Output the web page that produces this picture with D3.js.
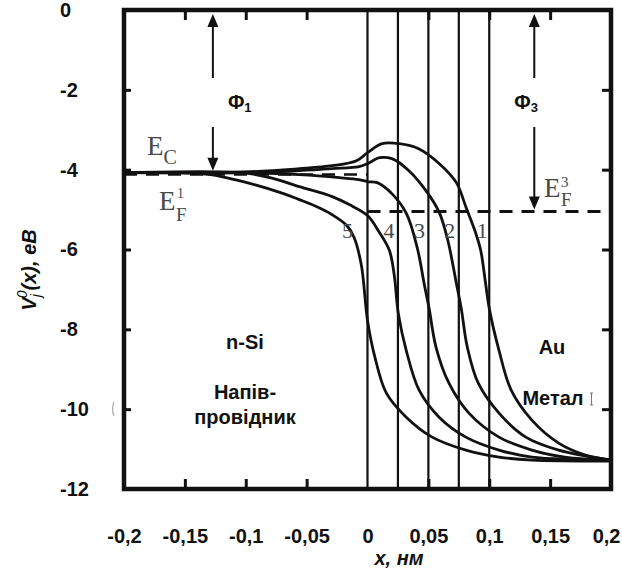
<!DOCTYPE html>
<html>
<head>
<meta charset="utf-8">
<script src="https://cdn.jsdelivr.net/npm/d3@7/dist/d3.min.js"></script>
<style>
  body { margin: 0; background: #fff; }
  svg { display: block; }
  .sans { font-family: "Liberation Sans", Arial, sans-serif; font-weight: bold; }
  .serif { font-family: "Liberation Serif", "Times New Roman", serif; fill: #4a4a4a; }
</style>
</head>
<body>
<svg id="chart" width="622" height="570"></svg>
<script>
// Potential-energy profiles V_j^0(x) across an n-Si / Au contact
const xTicks = [-0.2, -0.15, -0.1, -0.05, 0, 0.05, 0.1, 0.15, 0.2];
const xTickLabels = ["-0,2", "-0,15", "-0,1", "-0,05", "0", "0,05", "0,1", "0,15", "0,2"];
const yTicks = [0, -2, -4, -6, -8, -10, -12];
const yTickLabels = ["0", "-2", "-4", "-6", "-8", "-10", "-12"];

// interface position for curves 1..5 (nm)
const curveNames = ["1", "2", "3", "4", "5"];
const interfaces = [0.1, 0.075, 0.05, 0.025, 0];

// energy levels (eV)
const ecLevel = -4.075;   // conduction band edge of Si, E_C
const efSi = -4.12;       // E_F^1
const efAu = -5.05;       // E_F^3

// profiles, [x (nm), V (eV)]
const curve1 = [[-0.2,-4.075],[-0.096,-4.05],[-0.056,-3.975],[-0.029,-3.9],[-0.009,-3.775],[0,-3.575],
  [0.012,-3.35],[0.026,-3.35],[0.042,-3.475],[0.059,-3.85],[0.073,-4.325],[0.081,-4.95],[0.089,-5.6],
  [0.093,-6.025],[0.097,-6.85],[0.1,-7.475],[0.108,-8.525],[0.118,-9.525],[0.135,-10.275],
  [0.157,-10.85],[0.179,-11.15],[0.2,-11.275]];
const curve2 = [[-0.2,-4.075],[-0.096,-4.075],[-0.056,-4.025],[-0.029,-3.975],[-0.007,-3.925],[0,-3.85],
  [0.01,-3.7],[0.02,-3.725],[0.034,-4.025],[0.048,-4.525],[0.059,-5.075],[0.066,-5.775],[0.073,-6.85],
  [0.077,-7.475],[0.082,-8.45],[0.091,-9.35],[0.108,-10.1],[0.13,-10.7],[0.157,-11.025],[0.2,-11.275]];
const curve3 = [[-0.2,-4.075],[-0.096,-4.075],[-0.056,-4.125],[-0.023,-4.2],[-0.007,-4.25],[0,-4.3],
  [0.008,-4.325],[0.02,-4.6],[0.032,-5.1],[0.041,-5.975],[0.0465,-6.85],[0.0506,-7.475],[0.0563,-8.45],
  [0.0669,-9.35],[0.0833,-10.1],[0.108,-10.7],[0.135,-11.025],[0.162,-11.2],[0.2,-11.275]];
const curve4 = [[-0.2,-4.075],[-0.104,-4.075],[-0.08,-4.2],[-0.056,-4.425],[-0.029,-4.675],[-0.015,-4.875],
  [0,-5.15],[0.0098,-5.575],[0.018,-6.025],[0.022,-6.65],[0.0253,-7.6],[0.0318,-8.525],[0.0424,-9.525],
  [0.0588,-10.2],[0.0808,-10.7],[0.108,-11.025],[0.135,-11.2],[0.2,-11.275]];
const curve5 = [[-0.2,-4.075],[-0.153,-4.075],[-0.129,-4.125],[-0.096,-4.35],[-0.069,-4.6],[-0.056,-4.75],
  [-0.042,-4.925],[-0.029,-5.13],[-0.017,-5.4],[-0.011,-5.7],[-0.005,-6.4],[0,-7.775],[0.0057,-8.65],
  [0.0155,-9.6],[0.0318,-10.2],[0.0531,-10.7],[0.0808,-11.025],[0.108,-11.2],[0.135,-11.275],[0.2,-11.3]];
const curves = [curve1, curve2, curve3, curve4, curve5];

// work-function arrows: x position (nm), level they point down to
const phiNames = ["1", "3"];
const phiX = [-0.127, 0.137];
const phiLevels = [ecLevel, efAu];

const svg = d3.select("#chart");
const x = d3.scaleLinear().domain([-0.2, 0.2]).range([124, 611]);
const y = d3.scaleLinear().domain([0, -12]).range([10, 489]);
const [x0, x1] = x.range();
const [y0, y1] = y.range();

// boundary lines between semiconductor and metal
svg.append("g").selectAll("line").data(interfaces).join("line")
  .attr("x1", d => x(d)).attr("x2", d => x(d))
  .attr("y1", y0).attr("y2", y1)
  .attr("stroke", "#111").attr("stroke-width", 2.2);

// Fermi levels
svg.append("line")
  .attr("x1", x(-0.2)).attr("x2", x(0)).attr("y1", y(efSi)).attr("y2", y(efSi))
  .attr("stroke", "#111").attr("stroke-width", 2.5).attr("stroke-dasharray", "13,9");
svg.append("line")
  .attr("x1", x(0)).attr("x2", x(0.2)).attr("y1", y(efAu)).attr("y2", y(efAu))
  .attr("stroke", "#111").attr("stroke-width", 3).attr("stroke-dasharray", "13,9");

// profiles
const line = d3.line().x(d => x(d[0])).y(d => y(d[1])).curve(d3.curveCatmullRom.alpha(0.5));
svg.append("g").selectAll("path").data(curves).join("path")
  .attr("d", line).attr("fill", "none")
  .attr("stroke", "#111").attr("stroke-width", 2.8);

// inward ticks on all four sides
const tickStyle = g => {
  g.select(".domain").remove();
  g.selectAll("line").attr("stroke", "#111").attr("stroke-width", 3);
};
const innerY = yTicks.filter(v => v !== 0 && v !== -12);
const innerX = xTicks.filter(v => Math.abs(v) !== 0.2 && v !== 0);
svg.append("g").attr("transform", `translate(${x0},0)`)
  .call(d3.axisLeft(y).tickValues(innerY).tickSize(-7).tickFormat("")).call(tickStyle);
svg.append("g").attr("transform", `translate(${x1},0)`)
  .call(d3.axisRight(y).tickValues(innerY).tickSize(-9).tickFormat("")).call(tickStyle);
svg.append("g").attr("transform", `translate(0,${y0})`)
  .call(d3.axisTop(x).tickValues(innerX).tickSize(-10).tickFormat("")).call(tickStyle);
svg.append("g").attr("transform", `translate(0,${y1})`)
  .call(d3.axisBottom(x).tickValues(innerX).tickSize(-10).tickFormat("")).call(tickStyle);

// frame
svg.append("rect")
  .attr("x", x0).attr("y", y0).attr("width", x1 - x0).attr("height", y1 - y0)
  .attr("fill", "none").attr("stroke", "#111").attr("stroke-width", 4.5);

// tick labels
const yLab = svg.append("g").attr("transform", "translate(60,0)")
  .call(d3.axisLeft(y).tickValues(yTicks).tickSize(0).tickPadding(0)
    .tickFormat((d, i) => yTickLabels[i]));
yLab.select(".domain").remove();
yLab.selectAll("text").attr("class", "sans").attr("text-anchor", "start")
  .attr("font-size", 20).attr("fill", "#111");

const xLab = svg.append("g").attr("transform", `translate(0,${y1})`)
  .call(d3.axisBottom(x).tickValues(xTicks).tickSize(0).tickPadding(40)
    .tickFormat((d, i) => xTickLabels[i]));
xLab.select(".domain").remove();
xLab.selectAll("text").attr("class", "sans").attr("font-size", 20).attr("fill", "#111");
// keep the last label inside the page
xLab.selectAll("text").filter(d => d === 0.2).attr("text-anchor", "end").attr("dx", 9);

// axis titles
svg.append("text").attr("class", "sans").attr("font-size", 20).attr("font-style", "italic")
  .attr("text-anchor", "middle").attr("x", 399).attr("y", 565).attr("fill", "#111")
  .text("x, нм");

const yt = svg.append("text").attr("class", "sans").attr("font-size", 20).attr("font-style", "italic")
  .attr("text-anchor", "middle").attr("fill", "#111")
  .attr("transform", "translate(36,270) rotate(-90)");
yt.append("tspan").text("V");
yt.append("tspan").attr("font-size", 14).attr("font-weight", "normal").attr("dy", 5).text("j");
yt.append("tspan").attr("font-size", 14).attr("font-weight", "normal").attr("dx", -4).attr("dy", -14).text("0");
yt.append("tspan").attr("dy", 9).text("(x), eB");

// work-function arrows
phiX.forEach((px, i) => {
  const ax = x(px);
  const top = y(0) + 4, bot = y(phiLevels[i]) - 2;
  const gapTop = 78, gapBot = 127;
  const g = svg.append("g");
  g.append("line").attr("x1", ax).attr("x2", ax).attr("y1", top + 10).attr("y2", gapTop)
    .attr("stroke", "#111").attr("stroke-width", 2);
  g.append("line").attr("x1", ax).attr("x2", ax).attr("y1", gapBot).attr("y2", bot - 10)
    .attr("stroke", "#111").attr("stroke-width", 2);
  g.append("path").attr("d", `M${ax},${top} L${ax - 5.5},${top + 13} L${ax + 5.5},${top + 13} Z`).attr("fill", "#111");
  g.append("path").attr("d", `M${ax},${bot} L${ax - 5.5},${bot - 13} L${ax + 5.5},${bot - 13} Z`).attr("fill", "#111");
  const t = svg.append("text").attr("class", "sans").attr("font-size", 20).attr("fill", "#111")
    .attr("x", i === 0 ? ax + 15 : ax - 20).attr("y", 109);
  t.append("tspan").text("Φ");
  t.append("tspan").attr("font-size", 13).attr("dy", 3).text(phiNames[i]);
});

// level labels
const ec = svg.append("text").attr("class", "serif").attr("font-size", 27).attr("x", 147).attr("y", 155);
ec.append("tspan").text("E");
ec.append("tspan").attr("font-size", 20).attr("dy", 9).text("C");

svg.append("text").attr("class", "serif").attr("font-size", 27).attr("x", 159).attr("y", 210).text("E");
svg.append("text").attr("class", "serif").attr("font-size", 14).attr("x", 177).attr("y", 198).text("1");
svg.append("text").attr("class", "serif").attr("font-size", 19).attr("x", 176).attr("y", 221).text("F");

svg.append("text").attr("class", "serif").attr("font-size", 27).attr("x", 544).attr("y", 197).text("E");
svg.append("text").attr("class", "serif").attr("font-size", 15).attr("x", 561).attr("y", 187).text("3");
svg.append("text").attr("class", "serif").attr("font-size", 19).attr("x", 561).attr("y", 206).text("F");

// curve numbers, placed just left of each interface
const labelShift = [-7, -9, -9, -9, -20];
svg.append("g").selectAll("text").data(interfaces).join("text")
  .attr("class", "serif").attr("font-size", 22).attr("text-anchor", "middle")
  .attr("x", (d, i) => x(d) + labelShift[i]).attr("y", 238)
  .text((d, i) => curveNames[i]);

// region captions
const cap = (txt, cx, cy) => svg.append("text").attr("class", "sans").attr("font-size", 20)
  .attr("fill", "#111").attr("text-anchor", "middle").attr("x", cx).attr("y", cy).text(txt);
cap("n-Si", 245, 349);
cap("Напів-", 245, 399);
cap("провідник", 245, 424);
cap("Au", 552, 354);
cap("Метал", 553, 405);

// small stray marks
svg.append("path").attr("d", "M590,393 h3 M591.5,393 v12 M590,405 h3")
  .attr("stroke", "#777").attr("stroke-width", 1).attr("fill", "none");
svg.append("path").attr("d", "M114,402 q-3,7 0,14")
  .attr("stroke", "#aaa").attr("stroke-width", 1.2).attr("fill", "none");
</script>
</body>
</html>
